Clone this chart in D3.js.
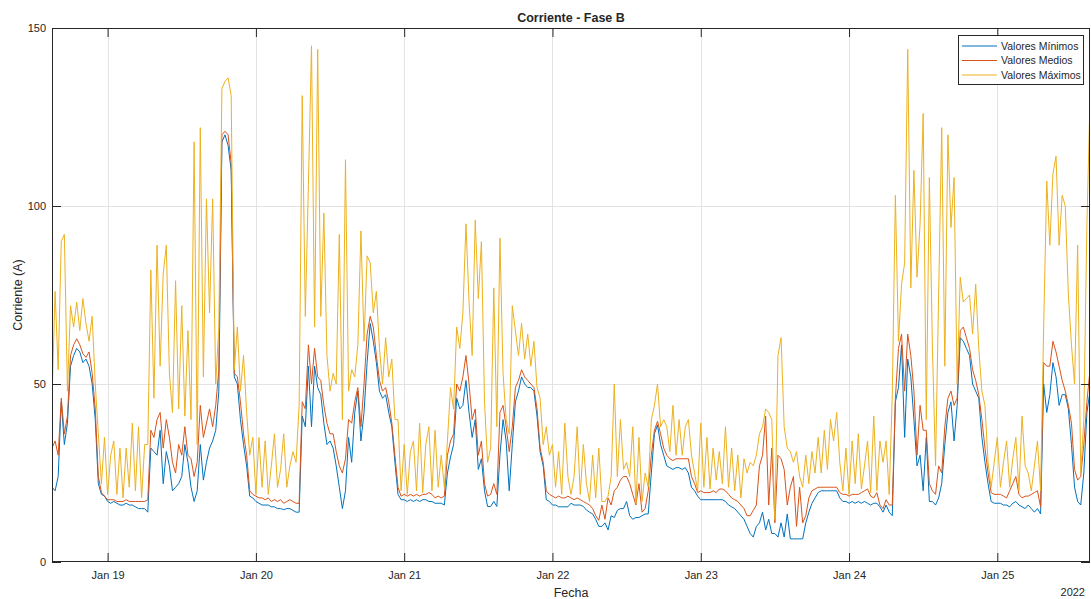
<!DOCTYPE html>
<html>
<head>
<meta charset="utf-8">
<script src="https://cdn.jsdelivr.net/npm/d3@7"></script>
<style>
  body { margin: 0; background: #fff; }
  svg text { font-family: "Liberation Sans", Arial, Helvetica, sans-serif; fill: #262626; }
</style>
</head>
<body>
<svg id="chart" width="1091" height="599"></svg>
<script>
// 30-minute samples, first one at Jan 18 2022 15:00
var startTime = new Date(2022, 0, 18, 15, 0);
var stepMinutes = 30;

var seriesNames = ['Valores Mínimos', 'Valores Medios', 'Valores Máximos'];
var seriesColors = ['#0072BD', '#D95319', '#EDB120'];
var yTicks = [0, 50, 100, 150];

var minValues = [
  21, 20, 24, 45, 33, 39, 55, 58, 60, 59,
  56, 57, 55, 50, 40, 22, 19, 18.5, 17, 16.5,
  17, 16.5, 16, 16, 16.5, 16, 16, 15.5, 15, 15,
  15, 14, 32, 31, 30, 37, 22, 31, 27, 20,
  21, 22, 24, 33, 28, 21, 17, 20, 33, 23,
  28, 32, 34, 37, 48, 118, 120, 117, 110, 52,
  50, 40, 33, 27, 18.5, 18, 17, 16.5, 16, 16,
  16, 15.5, 15.5, 15, 15, 14.7, 15, 15, 14.5, 14,
  14, 41, 38, 55, 38, 55, 49, 47, 39, 33,
  34, 32, 27, 21, 15, 20, 35, 28, 42, 48,
  34, 42, 56, 67, 62, 56, 48, 46, 47, 42,
  38, 28, 19, 17.5, 17.5, 17, 17.5, 17, 17.5, 17,
  17.5, 17.5, 17, 17, 16.5, 16.5, 16.5, 16, 25, 29.5,
  33, 46, 43, 44, 51, 42, 35, 40, 26, 29,
  20, 15.6, 15.6, 17, 15.6, 30, 40, 34, 20, 33,
  45, 48, 52, 50, 49, 49, 48, 41, 31, 27,
  17.5, 17, 16, 16, 15.5, 15.5, 15.5, 15.5, 16.5, 16,
  16, 16, 15.6, 14.6, 14, 13.5, 12, 10, 10, 11,
  9, 13, 12.5, 14.5, 15, 15, 17, 13, 12, 12.5,
  12.5, 13, 13.5, 13.5, 25, 36, 38.5, 33, 30, 27,
  26.5, 26, 26.5, 26.5, 26, 26.5, 25, 21, 20, 18.5,
  17.5, 17.5, 17.5, 17.5, 17.5, 17.5, 17.5, 17.5, 17, 16,
  15.5, 15, 14, 13, 12, 10, 8, 7, 10, 11,
  14, 9, 12, 8, 8, 7, 11, 7, 13.5, 6.5,
  6.5, 6.5, 6.5, 6.5, 11, 14, 16.5, 18, 19.5, 20,
  20, 20, 20, 20, 20, 18, 17, 17, 16.5, 17,
  16.5, 17, 16.5, 17, 16.5, 16, 16.5, 16.5, 15.5, 14,
  16, 14, 13, 45, 49, 61, 35, 57, 52, 40,
  27, 30, 20, 35, 17, 17, 16, 18, 22, 33,
  42, 45, 34, 44, 63, 62, 60, 58, 50, 48,
  46, 35, 28, 22, 17, 16.5, 16.5, 16.5, 16, 16,
  15.5, 16.5, 17, 16, 15.5, 15, 16, 15, 14, 15,
  13.5, 50, 42, 47, 56, 52, 44, 47, 47, 43,
  33, 21, 17, 16, 25, 42, 48
];

var meanValues = [
  32, 34, 30, 46, 36, 41, 58, 61, 62.7, 61,
  58.5, 57.5, 59, 53, 43, 24, 19.5, 18.5, 17.5, 17.5,
  17.5, 17, 17, 17, 17.5, 17, 17, 17, 17, 17,
  17, 17.5, 37, 35, 40, 42, 32, 40, 35, 28,
  25, 33, 30, 38, 30, 29, 24, 28, 44, 35,
  39, 43, 38, 44, 54, 120, 121, 120, 112, 53,
  52, 45, 36, 30, 20, 19, 18.5, 18, 18, 17.5,
  18, 17, 17.5, 17, 17.5, 16.5, 17, 17.5, 17, 16.5,
  16.5, 45, 43, 61, 50, 60, 52, 51, 44, 39,
  36, 36, 31, 27, 25, 29, 40, 39, 45, 49,
  38, 50, 64, 69, 66, 58, 51, 48, 49, 45,
  39, 30, 21, 18.5, 19, 18.5, 19, 18.5, 19, 18.5,
  19, 19, 19.5, 19, 18, 18.5, 18, 18.5, 30, 34,
  36, 50, 48, 52, 58, 50, 40, 43, 30, 34,
  22, 18.5, 19, 22, 19, 42, 44, 38, 31, 38,
  49, 51, 54, 52, 51, 50, 49, 43, 32, 28,
  20, 19, 18.5, 18, 18.5, 18, 18, 18.5, 18, 17.5,
  18, 17.5, 17, 16.5, 16, 15, 13, 11.7, 16, 12,
  18, 16, 20, 21, 23, 24, 24, 22, 19, 16,
  22, 14, 15, 20, 30, 37, 39.5, 36, 32, 30,
  29, 28.5, 29, 29, 29, 29, 29, 24, 22, 19.5,
  20, 19.5, 19.5, 19.5, 20, 19.5, 20.5, 20.5, 20, 19,
  18, 17.5, 17, 16, 15, 13, 13, 14.5, 16, 27,
  30, 41, 16, 32, 11, 30, 29, 26, 16, 21,
  24, 10, 21, 11, 13, 18, 20, 20.5, 21, 21,
  21, 21, 21, 21, 21, 19.5, 19, 19, 18.5, 19,
  19, 19, 19.5, 20, 20.5, 18.5, 18, 19.5, 16, 15,
  17.5, 16, 16, 46, 60, 64, 48, 64, 58, 48,
  30, 44, 37, 37, 22, 20, 19, 27, 25, 38,
  46, 48, 44, 46, 65, 66, 63, 60, 54, 51,
  47, 40, 32, 25, 19.5, 19, 19, 19, 18.5, 18,
  20, 22, 24, 19, 18, 18.5, 18.5, 19, 19.5, 20,
  15.5, 56, 55, 55, 62, 59, 55, 51, 48, 44,
  39, 26, 23, 24, 33, 45, 54
];

var maxValues = [
  46, 76, 54, 90, 92, 48, 72, 66, 73, 65,
  74, 67, 62, 69, 50, 36, 22, 35, 19, 30,
  34, 19, 32, 18, 32, 21, 39, 20, 38, 18,
  33, 33, 82, 46, 89, 55, 81, 89, 53, 42,
  79, 43, 72, 41, 65, 40, 118, 33, 122, 52,
  102, 70, 102, 50, 66, 133, 135, 136, 131, 54,
  66, 48, 58, 42, 30, 35, 19, 35, 21, 34,
  19, 27, 36, 21, 26, 36, 21, 27, 31, 28,
  44, 131, 69, 106, 145, 66, 144, 69, 98, 58,
  48, 53, 50, 92, 40, 113, 48, 54, 52, 61,
  93, 62, 86, 84, 70, 76, 60, 50, 63, 52,
  57, 40, 40, 20, 33, 19, 31, 34, 20, 39,
  19.5, 33, 38, 20, 37, 21, 30, 21, 34, 49,
  43, 66, 60, 70, 95, 73, 58, 96, 74, 90,
  45, 28, 32, 77, 38, 91, 53, 40, 36, 72,
  65, 58, 67, 57, 64, 55, 62, 49, 46, 33,
  38, 30, 33, 21, 31, 19, 39, 24, 19, 24,
  38, 19, 33, 22, 17, 30, 18, 32, 17, 17,
  18.5, 24, 50, 24, 40, 26, 28, 24, 38, 16.5,
  35, 17, 25, 21, 40, 44, 50, 38, 40, 38,
  31, 44, 30, 40, 30, 38, 40, 30, 25, 20,
  39, 21, 35, 20.5, 32, 23, 31, 22, 38, 21,
  32, 20, 30, 18, 29, 25, 28, 27, 30, 36,
  38, 43, 42, 40, 12, 58, 63, 38, 32, 31,
  28, 31, 24, 21, 30, 22, 31, 25, 35, 25,
  37, 26, 40, 34, 42, 28, 20, 32, 19, 34,
  22, 36, 20.5, 27, 34, 19.5, 41, 20, 34, 28,
  34, 19, 47, 103, 62, 78, 84, 144, 77, 110,
  80, 95, 126, 40, 108, 60, 27, 75, 122, 55,
  120, 94, 108, 50, 80, 73, 74, 75, 64, 78,
  60, 48, 44, 28, 21, 28, 35, 21, 28, 34,
  21, 29, 35, 20, 41, 27, 25, 20, 27, 34,
  20, 66, 107, 89, 109, 114, 89, 103, 100, 75,
  61, 50, 89, 25, 40, 95, 130
];

var svg = d3.select('#chart');
var margin = {left: 52, right: 1090, top: 28, bottom: 562};

var times = minValues.map(function(d, i) {
  return d3.timeMinute.offset(startTime, i * stepMinutes);
});

var x = d3.scaleTime()
  .domain([times[0], times[times.length - 1]])
  .range([margin.left, margin.right]);
var y = d3.scaleLinear()
  .domain([0, 150])
  .range([margin.bottom, margin.top]);

var dayTicks = x.ticks(d3.timeDay.every(1));

// grid
var grid = svg.append('g').attr('stroke', '#e3e3e3').attr('stroke-width', 1);
grid.selectAll('line.vx').data(dayTicks).enter().append('line')
  .attr('x1', function(d) { return Math.round(x(d)) + 0.5; })
  .attr('x2', function(d) { return Math.round(x(d)) + 0.5; })
  .attr('y1', margin.top).attr('y2', margin.bottom);
grid.selectAll('line.hy').data([50, 100]).enter().append('line')
  .attr('x1', margin.left).attr('x2', margin.right)
  .attr('y1', function(d) { return Math.round(y(d)) + 0.5; })
  .attr('y2', function(d) { return Math.round(y(d)) + 0.5; });

// series
svg.append('clipPath').attr('id', 'plotclip').append('rect')
  .attr('x', margin.left).attr('y', margin.top)
  .attr('width', margin.right - margin.left).attr('height', margin.bottom - margin.top);

var line = d3.line()
  .x(function(d, i) { return x(times[i]); })
  .y(function(d) { return y(d); });

var plot = svg.append('g').attr('clip-path', 'url(#plotclip)');
[minValues, meanValues, maxValues].forEach(function(values, k) {
  plot.append('path')
    .datum(values)
    .attr('fill', 'none')
    .attr('stroke', seriesColors[k])
    .attr('stroke-width', 1)
    .attr('stroke-linejoin', 'round')
    .attr('d', line);
});

// axes (ticks point inward, as in the original)
var tickLen = 9;
var xAxis = svg.append('g')
  .attr('transform', 'translate(0,' + margin.bottom + ')')
  .call(d3.axisBottom(x).tickValues(dayTicks).tickFormat(d3.timeFormat('%b %d'))
    .tickSizeInner(-tickLen).tickSizeOuter(0).tickPadding(9));
var xTop = svg.append('g')
  .attr('transform', 'translate(0,' + margin.top + ')')
  .call(d3.axisTop(x).tickValues(dayTicks).tickFormat('')
    .tickSizeInner(-tickLen).tickSizeOuter(0));
var yAxis = svg.append('g')
  .attr('transform', 'translate(' + margin.left + ',0)')
  .call(d3.axisLeft(y).tickValues(yTicks).tickFormat(d3.format('d'))
    .tickSizeInner(-tickLen).tickSizeOuter(0).tickPadding(6));
var yRight = svg.append('g')
  .attr('transform', 'translate(' + margin.right + ',0)')
  .call(d3.axisRight(y).tickValues(yTicks).tickFormat('')
    .tickSizeInner(-tickLen).tickSizeOuter(0));

[xAxis, xTop, yAxis, yRight].forEach(function(g) {
  g.select('.domain').remove();
  g.selectAll('.tick line').attr('stroke', '#262626');
  g.selectAll('.tick text')
    .style('font-family', '"Liberation Sans", Arial, sans-serif')
    .style('font-size', '11px')
    .attr('fill', '#262626');
});

svg.append('rect')
  .attr('x', margin.left + 0.5).attr('y', margin.top + 0.5)
  .attr('width', margin.right - margin.left - 1)
  .attr('height', margin.bottom - margin.top - 1)
  .attr('fill', 'none').attr('stroke', '#262626').attr('stroke-width', 1);

// labels
svg.append('text')
  .attr('x', (margin.left + margin.right) / 2).attr('y', 22)
  .attr('text-anchor', 'middle')
  .style('font-size', '12.5px').style('font-weight', 'bold')
  .text('Corriente - Fase B');

svg.append('text')
  .attr('transform', 'translate(22,' + ((margin.top + margin.bottom) / 2) + ') rotate(-90)')
  .attr('text-anchor', 'middle')
  .style('font-size', '12.5px')
  .text('Corriente (A)');

svg.append('text')
  .attr('x', (margin.left + margin.right) / 2).attr('y', 597)
  .attr('text-anchor', 'middle')
  .style('font-size', '12.5px')
  .text('Fecha');

svg.append('text')
  .attr('x', 1085).attr('y', 596)
  .attr('text-anchor', 'end')
  .style('font-size', '11px')
  .text('2022');

// legend
var legend = svg.append('g').attr('transform', 'translate(958,35)');
legend.append('rect')
  .attr('x', 0.5).attr('y', 0.5).attr('width', 125).attr('height', 49)
  .attr('fill', '#fff').attr('stroke', '#262626').attr('stroke-width', 1);
seriesNames.forEach(function(name, k) {
  var ly = 11 + k * 14.5;
  legend.append('line')
    .attr('x1', 4).attr('x2', 39).attr('y1', ly).attr('y2', ly)
    .attr('stroke', seriesColors[k]).attr('stroke-width', 1);
  legend.append('text')
    .attr('x', 43).attr('y', ly).attr('dy', '0.35em')
    .style('font-size', '10.5px')
    .text(name);
});
</script>
</body>
</html>
